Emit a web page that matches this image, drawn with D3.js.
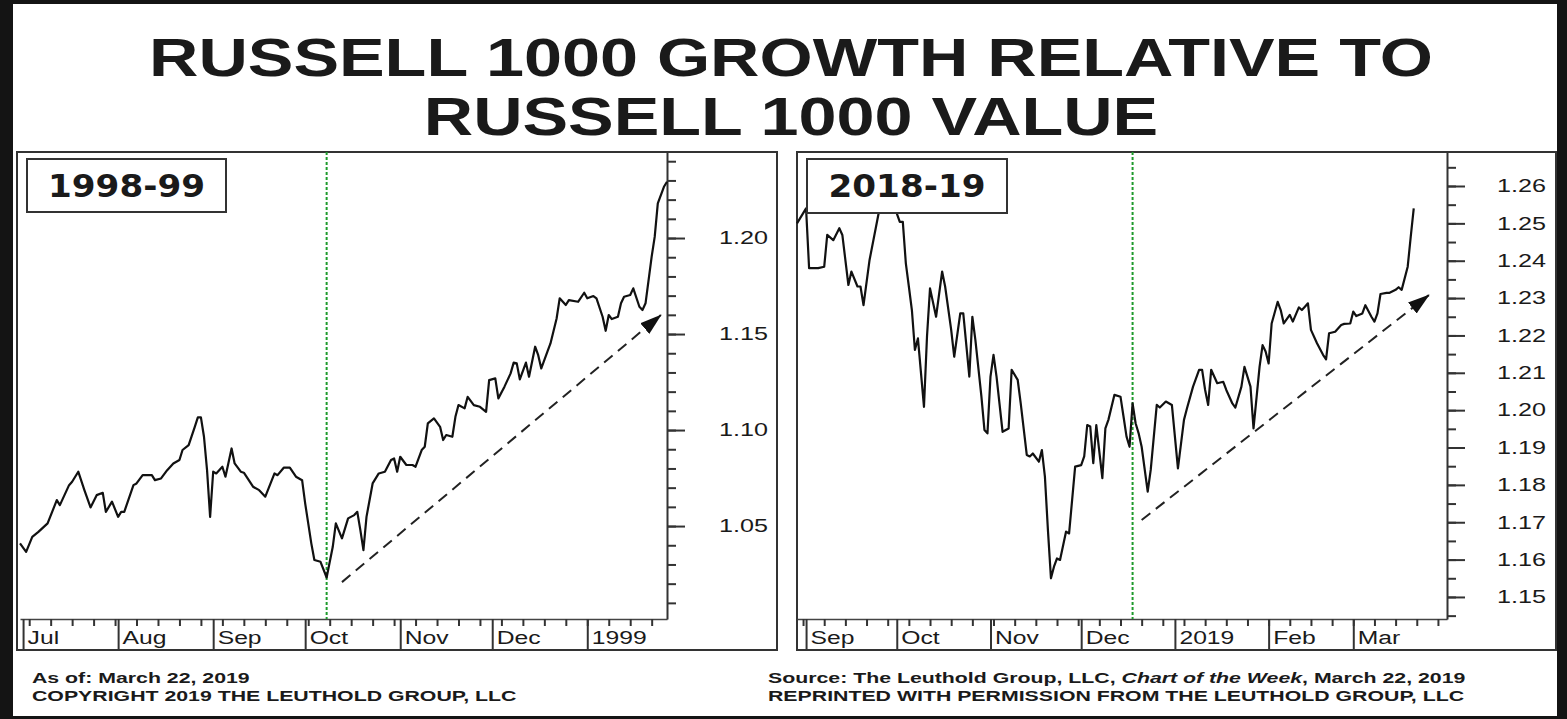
<!DOCTYPE html>
<html>
<head>
<meta charset="UTF-8">
<style>
  body { margin: 0; background: #fff; }
  svg { display: block; }
  text { font-family: "Liberation Sans", Arial, sans-serif; fill: #1a1a1a; }
</style>
</head>
<body>
<svg id="chart"></svg>
<script src="https://d3js.org/d3.v7.min.js"></script>
<script>

const width = 1567, height = 719;

// ---- 1998-99 panel ----
const dates98 = ["1998-06-30","1998-07-02","1998-07-04","1998-07-06","1998-07-09","1998-07-12","1998-07-13","1998-07-16","1998-07-17","1998-07-19",
  "1998-07-21","1998-07-23","1998-07-25","1998-07-27","1998-07-28","1998-07-30","1998-08-01","1998-08-02","1998-08-03","1998-08-06",
  "1998-08-07","1998-08-09","1998-08-12","1998-08-13","1998-08-15","1998-08-17","1998-08-19","1998-08-21","1998-08-22","1998-08-24",
  "1998-08-26","1998-08-27","1998-08-28","1998-08-29","1998-08-30","1998-08-31","1998-09-01","1998-09-02","1998-09-04","1998-09-05",
  "1998-09-07","1998-09-08","1998-09-10","1998-09-11","1998-09-14","1998-09-16","1998-09-18","1998-09-21","1998-09-22","1998-09-24",
  "1998-09-26","1998-09-28","1998-09-30","1998-10-01","1998-10-03","1998-10-04","1998-10-06","1998-10-08","1998-10-10","1998-10-11",
  "1998-10-13","1998-10-15","1998-10-17","1998-10-18","1998-10-19","1998-10-20","1998-10-21","1998-10-23","1998-10-25","1998-10-27",
  "1998-10-29","1998-10-30","1998-10-31","1998-11-01","1998-11-03","1998-11-05","1998-11-06","1998-11-08","1998-11-09","1998-11-10",
  "1998-11-12","1998-11-14","1998-11-15","1998-11-16","1998-11-18","1998-11-19","1998-11-20","1998-11-22","1998-11-23","1998-11-25",
  "1998-11-27","1998-11-29","1998-11-30","1998-12-02","1998-12-03","1998-12-05","1998-12-07","1998-12-08","1998-12-09","1998-12-10",
  "1998-12-12","1998-12-13","1998-12-15","1998-12-16","1998-12-17","1998-12-19","1998-12-20","1998-12-22","1998-12-23","1998-12-25",
  "1998-12-26","1998-12-29","1998-12-31","1999-01-01","1999-01-03","1999-01-04","1999-01-06","1999-01-07","1999-01-08","1999-01-09",
  "1999-01-11","1999-01-12","1999-01-13","1999-01-15","1999-01-16","1999-01-18","1999-01-19","1999-01-20","1999-01-22","1999-01-23",
  "1999-01-24","1999-01-26","1999-01-27"];
const values98 = [1.0410,1.0366,1.0444,1.0470,1.0514,1.0635,1.0609,1.0713,1.0731,1.0783,
  1.0687,1.0597,1.0661,1.0673,1.0574,1.0627,1.0548,1.0574,1.0574,1.0713,
  1.0722,1.0765,1.0765,1.0739,1.0748,1.0791,1.0826,1.0844,1.0896,1.0922,
  1.1017,1.1066,1.1066,1.0965,1.0791,1.0548,1.0783,1.0774,1.0809,1.0757,
  1.0904,1.0826,1.0783,1.0778,1.0705,1.0687,1.0653,1.0774,1.0765,1.0804,
  1.0804,1.0757,1.0739,1.0618,1.0410,1.0323,1.0314,1.0232,1.0392,1.0514,
  1.0436,1.0540,1.0557,1.0574,1.0479,1.0375,1.0548,1.0722,1.0774,1.0783,
  1.0844,1.0852,1.0783,1.0861,1.0818,1.0818,1.0809,1.0896,1.0913,1.1035,
  1.1061,1.1017,1.0948,1.0974,1.0965,1.1069,1.1130,1.1113,1.1173,1.1130,
  1.1121,1.1095,1.1260,1.1269,1.1165,1.1226,1.1295,1.1351,1.1347,1.1264,
  1.1351,1.1278,1.1434,1.1390,1.1321,1.1408,1.1451,1.1581,1.1686,1.1651,
  1.1677,1.1668,1.1715,1.1686,1.1698,1.1686,1.1590,1.1517,1.1599,1.1578,
  1.1590,1.1660,1.1694,1.1703,1.1738,1.1642,1.1625,1.1660,1.1903,1.2007,
  1.2180,1.2267,1.2293];
const lowDate98 = "1998-10-08";
const trendDates98 = ["1998-10-13", "1999-01-25"];
const trendValues98 = [1.0208, 1.1599];
const yLabels98 = [1.05, 1.10, 1.15, 1.20];
const yMinor98 = d3.range(101, 125).map(v => v / 100);

// ---- 2018-19 panel ----
const dates19 = ["2018-08-29","2018-09-01","2018-09-02","2018-09-05","2018-09-07","2018-09-08","2018-09-10","2018-09-12","2018-09-13","2018-09-15",
  "2018-09-16","2018-09-18","2018-09-19","2018-09-20","2018-09-22","2018-09-25","2018-09-26","2018-09-29","2018-10-01","2018-10-02",
  "2018-10-03","2018-10-04","2018-10-05","2018-10-06","2018-10-07","2018-10-08","2018-10-10","2018-10-11","2018-10-12","2018-10-14",
  "2018-10-16","2018-10-17","2018-10-19","2018-10-20","2018-10-22","2018-10-23","2018-10-25","2018-10-26","2018-10-27","2018-10-29",
  "2018-10-30","2018-10-31","2018-11-01","2018-11-02","2018-11-03","2018-11-05","2018-11-07","2018-11-08","2018-11-10","2018-11-11",
  "2018-11-13","2018-11-14","2018-11-15","2018-11-17","2018-11-18","2018-11-19","2018-11-20","2018-11-21","2018-11-22","2018-11-23",
  "2018-11-24","2018-11-26","2018-11-27","2018-11-29","2018-12-01","2018-12-02","2018-12-03","2018-12-04","2018-12-05","2018-12-06",
  "2018-12-08","2018-12-09","2018-12-10","2018-12-12","2018-12-14","2018-12-15","2018-12-16","2018-12-17","2018-12-18","2018-12-19",
  "2018-12-20","2018-12-21","2018-12-23","2018-12-24","2018-12-26","2018-12-27","2018-12-29","2018-12-31","2019-01-02","2019-01-04",
  "2019-01-05","2019-01-07","2019-01-09","2019-01-10","2019-01-11","2019-01-12","2019-01-13","2019-01-15","2019-01-17","2019-01-18",
  "2019-01-20","2019-01-21","2019-01-23","2019-01-24","2019-01-26","2019-01-27","2019-01-29","2019-01-30","2019-01-31","2019-02-01",
  "2019-02-02","2019-02-04","2019-02-05","2019-02-06","2019-02-08","2019-02-09","2019-02-11","2019-02-12","2019-02-13","2019-02-14",
  "2019-02-15","2019-02-17","2019-02-19","2019-02-20","2019-02-21","2019-02-23","2019-02-25","2019-02-26","2019-02-28","2019-03-01",
  "2019-03-02","2019-03-04","2019-03-05","2019-03-07","2019-03-08","2019-03-09","2019-03-10","2019-03-12","2019-03-13","2019-03-15",
  "2019-03-16","2019-03-17","2019-03-19","2019-03-20","2019-03-21"];
const values19 = [1.2500,1.2540,1.2380,1.2380,1.2384,1.2469,1.2455,1.2487,1.2469,1.2335,
  1.2371,1.2331,1.2331,1.2281,1.2402,1.2527,1.2558,1.2554,1.2527,1.2504,
  1.2504,1.2393,1.2331,1.2268,1.2161,1.2192,1.2009,1.2197,1.2326,1.2250,
  1.2371,1.2331,1.2215,1.2143,1.2259,1.2259,1.2090,1.2250,1.2188,1.2036,
  1.1947,1.1938,1.2090,1.2148,1.2090,1.1942,1.1951,1.2108,1.2081,1.2018,
  1.1880,1.1876,1.1884,1.1862,1.1893,1.1822,1.1679,1.1550,1.1581,1.1603,
  1.1599,1.1675,1.1670,1.1849,1.1853,1.1876,1.1960,1.1956,1.1858,1.1960,
  1.1818,1.1951,1.1974,1.2041,1.2036,1.1983,1.1929,1.1902,1.2018,1.1965,
  1.1938,1.1902,1.1782,1.1840,1.2014,1.2007,1.2023,1.2014,1.1844,1.1974,
  1.2005,1.2063,1.2108,1.2108,1.2054,1.2014,1.2108,1.2072,1.2076,1.2054,
  1.2018,1.2007,1.2063,1.2116,1.2063,1.1951,1.2116,1.2174,1.2157,1.2125,
  1.2232,1.2290,1.2268,1.2232,1.2255,1.2237,1.2275,1.2268,1.2277,1.2286,
  1.2215,1.2179,1.2148,1.2136,1.2206,1.2210,1.2228,1.2231,1.2232,1.2264,
  1.2252,1.2259,1.2281,1.2250,1.2237,1.2259,1.2311,1.2314,1.2314,1.2322,
  1.2329,1.2322,1.2384,1.2464,1.2540];
const lowDate19 = "2018-12-18";
const trendDates19 = ["2018-12-21", "2019-03-26"];
const trendValues19 = [1.1706, 1.2308];
const yLabels19 = [1.15, 1.16, 1.17, 1.18, 1.19, 1.20, 1.21, 1.22, 1.23, 1.24, 1.25, 1.26];
const yMinor19 = d3.range(229, 254).map(v => v / 200);

const parse = d3.timeParse("%Y-%m-%d");

const svg = d3.select("#chart")
  .attr("width", width)
  .attr("height", height);

// outer black border
svg.append("rect").attr("width", width).attr("height", height).attr("fill", "#141414");
svg.append("rect").attr("x", 13).attr("y", 4).attr("width", 1544).attr("height", 712).attr("fill", "#fff");

svg.append("defs").append("marker")
  .attr("id", "arrow")
  .attr("markerUnits", "userSpaceOnUse")
  .attr("viewBox", "0 -8 22 16")
  .attr("refX", 21)
  .attr("refY", 0)
  .attr("markerWidth", 22)
  .attr("markerHeight", 16)
  .attr("orient", "auto")
  .append("path")
  .attr("d", "M0,-7L22,0L0,7Z")
  .attr("fill", "#111");

// text squeezed wider, like the original
function wideText(parent, x, y, k, txt) {
  return parent.append("text")
    .attr("transform", "translate(" + x + "," + y + ") scale(" + k + ",1)")
    .text(txt);
}

// title
wideText(svg, 791, 76, 1.29, "RUSSELL 1000 GROWTH RELATIVE TO")
  .attr("text-anchor", "middle").style("font-size", "53px").style("font-weight", "bold");
wideText(svg, 791, 135, 1.29, "RUSSELL 1000 VALUE")
  .attr("text-anchor", "middle").style("font-size", "53px").style("font-weight", "bold");

const panels = [
  { label: "1998-99", dates: dates98, values: values98, low: lowDate98,
    trendDates: trendDates98, trendValues: trendValues98,
    yLabels: yLabels98, yMinor: yMinor98, yDomain: [1.0016, 1.2448],
    xDomain: ["1998-06-30", "1999-01-27"],
    left: 17, right: 777, plotLeft: 20, plotRight: 667, labelX: 768,
    box: { x: 27, y: 159, w: 199, h: 53 } },
  { label: "2018-19", dates: dates19, values: values19, low: lowDate19,
    trendDates: trendDates19, trendValues: trendValues19,
    yLabels: yLabels19, yMinor: yMinor19, yDomain: [1.1441, 1.2691],
    xDomain: ["2018-08-29", "2019-04-01"],
    left: 797, right: 1556, plotLeft: 797, plotRight: 1447, labelX: 1546,
    box: { x: 807, y: 159, w: 200, h: 54 } }
];

const plotTop = 152, bandTop = 619, frameBottom = 650;

panels.forEach(p => {
  const g = svg.append("g");

  const x = d3.scaleTime()
    .domain(p.xDomain.map(parse))
    .range([p.plotLeft, p.plotRight]);
  const y = d3.scaleLinear()
    .domain(p.yDomain)
    .range([bandTop, plotTop]);
  const xEnd = x.domain()[1];

  // frame
  g.append("rect")
    .attr("x", p.left).attr("y", plotTop)
    .attr("width", p.right - p.left).attr("height", frameBottom - plotTop)
    .attr("fill", "#fff").attr("stroke", "#333").attr("stroke-width", 2);

  // weekly ticks along the date band
  const wk = g.append("g")
    .attr("transform", "translate(0," + bandTop + ")")
    .call(d3.axisBottom(x).ticks(d3.timeFriday).tickSize(7).tickSizeOuter(0).tickFormat(""));
  wk.selectAll("line").attr("stroke", "#333").attr("stroke-width", 2);
  wk.select(".domain").attr("stroke", "#444").attr("stroke-width", 1.5);

  // month dividers and labels (only months that start inside the window)
  const fmtMonth = d3.timeFormat("%b"), fmtYear = d3.timeFormat("%Y");
  const monthStarts = x.ticks(d3.timeMonth).filter(d => d < xEnd);
  const mo = g.append("g")
    .attr("transform", "translate(0," + bandTop + ")")
    .call(d3.axisBottom(x).tickValues(monthStarts).tickSize(frameBottom - bandTop).tickSizeOuter(0)
      .tickFormat(d => d.getMonth() === 0 ? fmtYear(d) : fmtMonth(d)));
  mo.select(".domain").remove();
  mo.selectAll("line").attr("stroke", "#333").attr("stroke-width", 2);
  mo.selectAll("text")
    .attr("x", null).attr("y", null).attr("dy", null)
    .attr("text-anchor", "start")
    .attr("transform", "translate(4,25) scale(1.3,1)")
    .style("font-size", "19px")
    .style("font-family", "'Liberation Sans', Arial, sans-serif")
    .attr("fill", "#1a1a1a");

  // value axis on the right
  const minor = g.append("g")
    .attr("transform", "translate(" + p.plotRight + ",0)")
    .call(d3.axisRight(y).tickValues(p.yMinor).tickSize(9).tickSizeOuter(0).tickFormat(""));
  minor.select(".domain").attr("stroke", "#333").attr("stroke-width", 2);
  minor.selectAll("line").attr("stroke", "#333").attr("stroke-width", 2);

  const major = g.append("g")
    .attr("transform", "translate(" + p.plotRight + ",0)")
    .call(d3.axisRight(y).tickValues(p.yLabels).tickSize(18).tickSizeOuter(0).tickFormat(d3.format(".2f")));
  major.select(".domain").remove();
  major.selectAll("line").attr("stroke", "#333").attr("stroke-width", 2);
  major.selectAll("text")
    .attr("x", null)
    .attr("text-anchor", "end")
    .attr("transform", "translate(" + (p.labelX - p.plotRight) + ",0) scale(1.4,1)")
    .style("font-size", "18px")
    .style("font-family", "'Liberation Sans', Arial, sans-serif")
    .attr("fill", "#1a1a1a");

  // green marker at the low
  g.append("line")
    .attr("x1", x(parse(p.low))).attr("x2", x(parse(p.low)))
    .attr("y1", plotTop).attr("y2", bandTop)
    .attr("stroke", "#1e9a2c").attr("stroke-width", 2).attr("stroke-dasharray", "3,2");

  // ratio line
  const series = p.dates.map((d, i) => ({ date: parse(d), value: p.values[i] }));
  g.append("path")
    .datum(series)
    .attr("fill", "none")
    .attr("stroke", "#111")
    .attr("stroke-width", 2.2)
    .attr("stroke-linejoin", "round")
    .attr("d", d3.line().x(d => x(d.date)).y(d => y(d.value)));

  // dashed trend arrow
  g.append("line")
    .attr("x1", x(parse(p.trendDates[0]))).attr("y1", y(p.trendValues[0]))
    .attr("x2", x(parse(p.trendDates[1]))).attr("y2", y(p.trendValues[1]))
    .attr("stroke", "#222").attr("stroke-width", 2).attr("stroke-dasharray", "11,7")
    .attr("marker-end", "url(#arrow)");

  // period label box
  g.append("rect")
    .attr("x", p.box.x).attr("y", p.box.y).attr("width", p.box.w).attr("height", p.box.h)
    .attr("fill", "#fff").attr("stroke", "#333").attr("stroke-width", 2);
  wideText(g, p.box.x + p.box.w / 2, p.box.y + 38, 1.07, p.label)
    .attr("text-anchor", "middle")
    .style("font-family", "'DejaVu Sans', sans-serif")
    .style("font-weight", "bold")
    .style("font-size", "32px");
});

// footer notes
wideText(svg, 32, 683, 1.42, "As of: March 22, 2019")
  .style("font-size", "15px").style("font-weight", "bold");
wideText(svg, 32, 701, 1.42, "COPYRIGHT 2019 THE LEUTHOLD GROUP, LLC")
  .style("font-size", "15px").style("font-weight", "bold");

const src = wideText(svg, 768, 683, 1.42, "")
  .style("font-size", "15px").style("font-weight", "bold");
src.append("tspan").text("Source: The Leuthold Group, LLC, ");
src.append("tspan").style("font-style", "italic").text("Chart of the Week");
src.append("tspan").text(", March 22, 2019");
wideText(svg, 768, 701, 1.42, "REPRINTED WITH PERMISSION FROM THE LEUTHOLD GROUP, LLC")
  .style("font-size", "15px").style("font-weight", "bold");

</script>
</body>
</html>
